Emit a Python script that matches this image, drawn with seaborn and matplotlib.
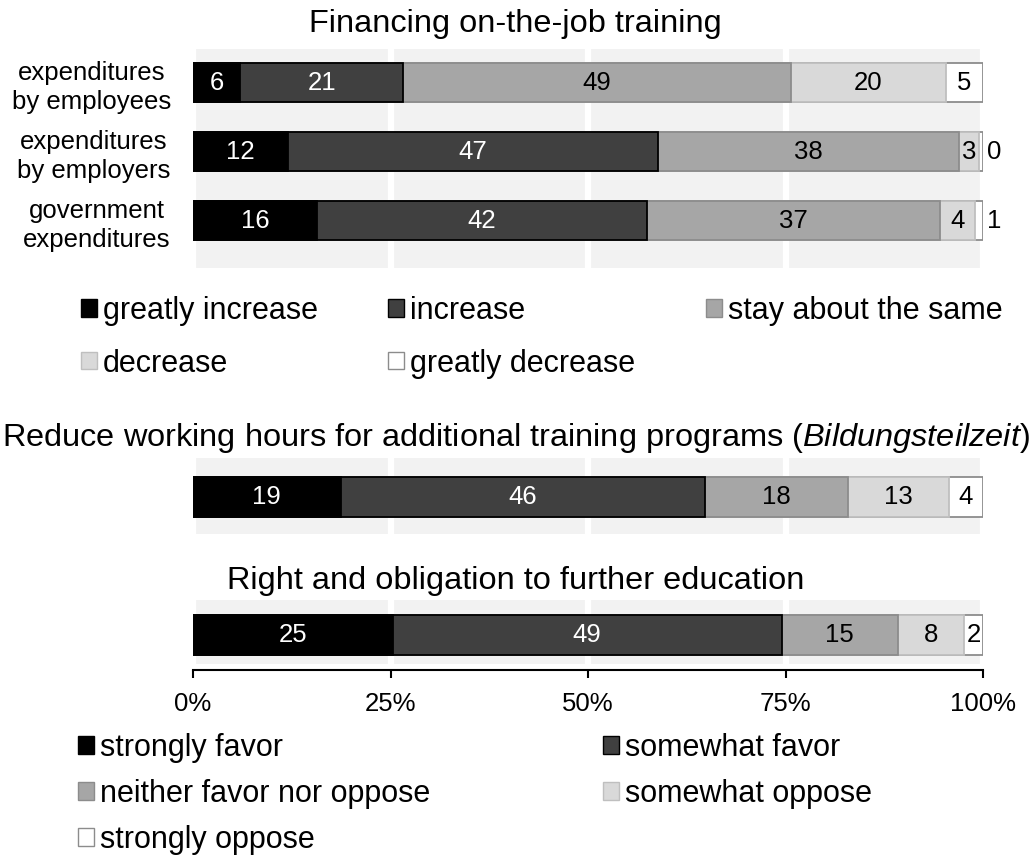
import numpy as np
import pandas as pd
import seaborn as sns
import matplotlib.pyplot as plt
from matplotlib.patches import Patch

sns.set_style("white")
plt.rcParams['font.family'] = ['Liberation Sans', 'DejaVu Sans']
plt.rcParams['mathtext.fontset'] = 'custom'
plt.rcParams['mathtext.rm'] = 'Liberation Sans'
plt.rcParams['mathtext.it'] = 'Liberation Sans:italic'
plt.rcParams['text.color'] = 'black'
plt.rcParams['xtick.color'] = 'black'
plt.rcParams['ytick.color'] = 'black'

# --- data (percent shares) ---
fin_rows = ["expenditures\nby employees", "expenditures\nby employers", "government\nexpenditures"]
fin_cats = ["greatly increase", "increase", "stay about the same", "decrease", "greatly decrease"]
fin_employees = [6.0, 20.6, 49.1, 19.6, 4.7]
fin_employers = [12.0, 46.8, 38.1, 2.65, 0.45]
fin_government = [15.7, 41.8, 37.1, 4.4, 1.0]

fav_cats = ["strongly favor", "somewhat favor", "neither favor nor oppose",
            "somewhat oppose", "strongly oppose"]
bildung = [18.7, 46.1, 18.1, 12.8, 4.3]
right_obligation = [25.3, 49.2, 14.7, 8.4, 2.4]

x_ticks = [0, 25, 50, 75, 100]
x_ticklabels = ["0%", "25%", "50%", "75%", "100%"]

title1 = "Financing on-the-job training"
title2 = "Reduce working hours for additional training programs ($\\it{Bildungsteilzeit}$)"
title3 = "Right and obligation to further education"

fills = ["#000000", "#404040", "#a6a6a6", "#d9d9d9", "#ffffff"]
edges = ["#000000", "#000000", "#8c8c8c", "#bfbfbf", "#8c8c8c"]
txt_col = ["white", "white", "black", "black", "black"]

FS = 18.5       # bar labels, tick labels
LFS = 22        # legends
TFS = 23.4      # titles
W, H = 1031, 856


def stacked(ax, rows, shares):
    shares = np.array(shares, dtype=float)
    cum = np.cumsum(shares, axis=1)
    for k in reversed(range(shares.shape[1])):
        df = pd.DataFrame({"row": rows, "val": cum[:, k]})
        sns.barplot(data=df, x="val", y="row", orient="h", color=fills[k],
                    edgecolor=edges[k], linewidth=1.3, width=0.57,
                    saturation=1, errorbar=None, ax=ax)
    for i in range(shares.shape[0]):
        for k in range(shares.shape[1]):
            v = shares[i, k]
            lab = f"{v:.0f}"
            if v < 1.5:
                ax.annotate(lab, (cum[i, -1], i), xytext=(3, 0), textcoords="offset points",
                            ha="left", va="center", fontsize=FS, color="black")
            else:
                ax.text(cum[i, k] - v / 2, i, lab, ha="center", va="center",
                        fontsize=FS, color=txt_col[k])
    ax.set_xlim(0, 100)
    ax.set_xticks(x_ticks)
    ax.set_facecolor("#f2f2f2")
    ax.set_axisbelow(True)
    ax.grid(axis="x", color="white", linewidth=4.5)
    ax.grid(axis="y", visible=False)
    ax.set_xlabel("")
    ax.set_ylabel("")
    for s in ax.spines.values():
        s.set_visible(False)


def place(top_px, bottom_px):
    return [193 / W, 1 - bottom_px / H, 790 / W, (bottom_px - top_px) / H]


fig = plt.figure(figsize=(W / 100, H / 100), dpi=100)

ax1 = fig.add_axes(place(49, 268))
stacked(ax1, fin_rows, [fin_employees, fin_employers, fin_government])
ax1.set_ylim(2.688, -0.486)
ax1.tick_params(axis="x", length=0, labelbottom=False)
ax1.tick_params(axis="y", length=0, pad=16, labelsize=FS)
for t in ax1.get_yticklabels():
    t.set_multialignment("center")
    t.set_linespacing(1.25)

ax2 = fig.add_axes(place(458, 534))
stacked(ax2, ["Bildungsteilzeit"], [bildung])
ax2.set_ylim(0.529, -0.557)
ax2.tick_params(axis="both", length=0, labelbottom=False, labelleft=False)

ax3 = fig.add_axes(place(600, 664))
stacked(ax3, ["Right and obligation"], [right_obligation])
ax3.set_ylim(0.414, -0.5)
ax3.tick_params(axis="y", length=0, labelleft=False)
ax3.spines["bottom"].set_visible(True)
ax3.spines["bottom"].set_color("black")
ax3.spines["bottom"].set_linewidth(1.5)
ax3.spines["bottom"].set_position(("outward", 4))
ax3.set_xticklabels(x_ticklabels)
ax3.tick_params(axis="x", bottom=True, length=6, width=1.5, direction="out",
                colors="black", labelsize=FS, pad=10)

fig.text(0.5, 1 - 32 / H, title1, ha="center", va="baseline", fontsize=TFS)
fig.text(0.5, 1 - 446 / H, title2, ha="center", va="baseline", fontsize=TFS)
fig.text(0.5, 1 - 589 / H, title3, ha="center", va="baseline", fontsize=TFS)

# legends (handles reordered so matplotlib's column filling gives row order)
h1 = [Patch(facecolor=fills[k], edgecolor=edges[k], label=fin_cats[k]) for k in range(5)]
leg1 = fig.legend(handles=[h1[0], h1[3], h1[1], h1[4], h1[2]], ncol=3,
                  loc="upper left", bbox_to_anchor=(81 / W, 1 - 296 / H),
                  frameon=False, fontsize=LFS, handlelength=0.52, handleheight=0.5,
                  handletextpad=0.2, columnspacing=2.3, labelspacing=0.74,
                  borderpad=0, borderaxespad=0)

h2 = [Patch(facecolor=fills[k], edgecolor=edges[k], label=fav_cats[k]) for k in range(5)]
leg2 = fig.legend(handles=[h2[0], h2[2], h2[4], h2[1], h2[3]], ncol=2,
                  loc="upper left", bbox_to_anchor=(78 / W, 1 - 733 / H),
                  frameon=False, fontsize=LFS, handlelength=0.52, handleheight=0.5,
                  handletextpad=0.2, columnspacing=5.65, labelspacing=0.52,
                  borderpad=0, borderaxespad=0)

fig.savefig("out.png", dpi=100)
